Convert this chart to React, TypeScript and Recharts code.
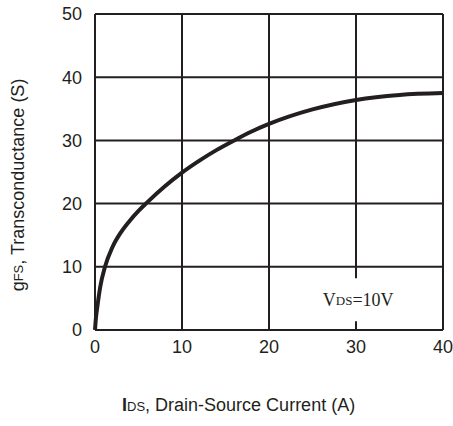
import React from 'react';
import {
  LineChart,
  Line,
  XAxis,
  YAxis,
  CartesianGrid,
  ReferenceArea,
} from 'recharts';

// IDS (A)
const currentA = [0, 0.1, 0.3, 0.6, 1.15, 2, 3, 4, 5, 6, 8, 10, 12, 14, 16, 18, 20, 25, 30, 35, 40];
// gFS (S) at those currents
const gfsS = [0, 1.8, 4, 6.8, 10, 13.1, 15.5, 17.3, 18.85, 20.2, 22.7, 24.9, 26.8, 28.5, 30, 31.4, 32.6, 34.9, 36.4, 37.2, 37.5];

const xTicks = [0, 10, 20, 30, 40];
const yTicks = [0, 10, 20, 30, 40, 50];

const INK = '#231f20';
const SANS = '"Liberation Sans", Arial, sans-serif';

const data = currentA.map((x, i) => ({ ids: x, gfs: gfsS[i] }));

const VdsLabel = (props: any) => {
  const { x, y, width, height } = props.viewBox;
  return (
    <text
      x={x + width / 2}
      y={y + height / 2}
      textAnchor="middle"
      dominantBaseline="central"
      fill={INK}
      fontFamily='"Liberation Serif", "Times New Roman", serif'
      fontSize={18}
    >
      V<tspan fontSize={13}>DS</tspan>=10V
    </text>
  );
};

const XLabel = (props: any) => {
  const { x, y } = props.viewBox;
  return (
    <text x={x + 27} y={y + 81} fill={INK} fontFamily={SANS} fontSize={18}>
      <tspan fontWeight="bold">I</tspan>
      <tspan fontSize={13}>DS</tspan>, Drain-Source Current (A)
    </text>
  );
};

const YLabel = (props: any) => {
  const { y, height } = props.viewBox;
  const cx = 18;
  const cy = y + height / 2 + 13;
  return (
    <text
      x={cx}
      y={cy}
      transform={`rotate(-90 ${cx} ${cy})`}
      textAnchor="middle"
      dominantBaseline="central"
      fill={INK}
      fontFamily={SANS}
      fontSize={18}
    >
      g<tspan fontSize={13}>FS</tspan>, Transconductance (S)
    </text>
  );
};

const App: React.FC = () => {
  return (
    <div style={{ position: 'absolute', left: 0, top: 0, width: 453, height: 426, background: '#fff' }}>
      <LineChart
        width={453}
        height={426}
        data={data}
        margin={{ top: 14, right: 10, bottom: 0, left: 0 }}
      >
        <CartesianGrid stroke={INK} strokeWidth={2} />
        <XAxis
          dataKey="ids"
          type="number"
          domain={[0, 40]}
          ticks={xTicks}
          height={96}
          tickLine={false}
          tickSize={0}
          tickMargin={10}
          axisLine={{ stroke: INK, strokeWidth: 2 }}
          tick={{ fill: INK, fontSize: 18, fontFamily: SANS }}
          label={{ content: XLabel }}
        />
        <YAxis
          type="number"
          domain={[0, 50]}
          ticks={yTicks}
          width={95}
          tickLine={false}
          tickSize={0}
          tickMargin={13}
          axisLine={{ stroke: INK, strokeWidth: 2 }}
          tick={{ fill: INK, fontSize: 18, fontFamily: SANS }}
          label={{ content: YLabel }}
        />
        <ReferenceArea
          x1={26.2}
          x2={34.3}
          y1={1.4}
          y2={8.2}
          fill="#fff"
          fillOpacity={1}
          stroke="none"
          label={{ content: VdsLabel }}
        />
        <Line
          dataKey="gfs"
          type="monotone"
          stroke={INK}
          strokeWidth={4}
          dot={false}
          isAnimationActive={false}
        />
      </LineChart>
    </div>
  );
};

export default App;
